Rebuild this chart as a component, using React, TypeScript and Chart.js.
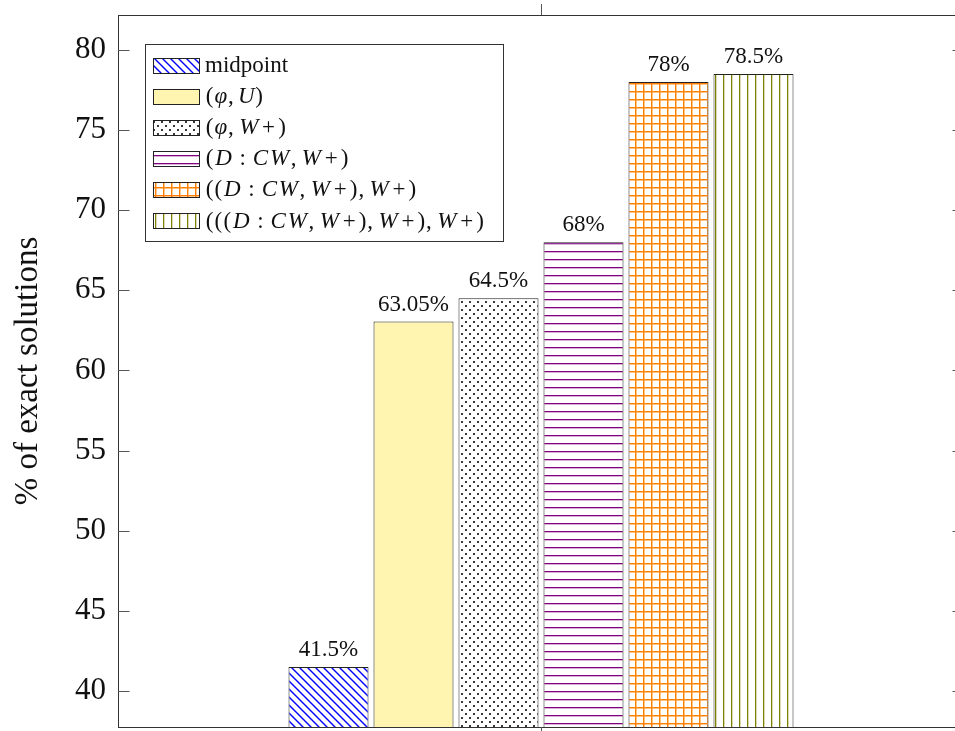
import React, { useEffect, useRef } from "react";
import { Chart, registerables } from "chart.js";

Chart.register(...registerables);

const FONT = "'Liberation Serif', 'DejaVu Serif', serif";

// ---- data ----
const categories = [""];
const seriesNames = [
  "midpoint",
  "(φ, U)",
  "(φ, W+)",
  "(D : CW, W+)",
  "((D : CW, W+), W+)",
  "(((D : CW, W+), W+), W+)",
];
const seriesIsMath = [false, true, true, true, true, true];
const seriesValues = [41.5, 63.05, 64.5, 68, 78, 78.5];
const valueLabels = ["41.5%", "63.05%", "64.5%", "68%", "78%", "78.5%"];
const yTicks = [40, 45, 50, 55, 60, 65, 70, 75, 80];
const yMin = 37.75;
const yMax = 82.18;
const yTitle = "% of exact solutions";

// ---- styles ----
type PatKind = "nwlines" | "solid" | "dots" | "hlines" | "grid" | "vlines";
const seriesPattern: PatKind[] = ["nwlines", "solid", "dots", "hlines", "grid", "vlines"];
const seriesColor = ["#0000ff", "#fff5b0", "#3a3a3a", "#800080", "#ff8000", "#808000"];

const CANVAS_W = 990;
const CANVAS_H = 745;

// approximate math-font advances (em) to mimic TeX spacing
const mathAdvance: Record<string, number> = {
  "(": 0.389,
  ")": 0.389,
  "+": 0.778,
  ",": 0.278,
  ":": 0.278,
  W: 0.944,
  C: 0.715,
  D: 0.828,
  U: 0.683,
  "φ": 0.596,
};

function makeFill(kind: PatKind, color: string): string | CanvasPattern {
  if (kind === "solid") return color;
  const t = document.createElement("canvas");
  t.width = 8;
  t.height = 8;
  const g = t.getContext("2d")!;
  g.fillStyle = "#ffffff";
  g.fillRect(0, 0, 8, 8);
  g.strokeStyle = color;
  g.fillStyle = color;
  g.lineWidth = 1.4;
  if (kind === "nwlines") {
    g.beginPath();
    g.moveTo(-4, -4);
    g.lineTo(12, 12);
    g.moveTo(-4, 4);
    g.lineTo(4, 12);
    g.moveTo(4, -4);
    g.lineTo(12, 4);
    g.stroke();
  } else if (kind === "dots") {
    g.fillRect(1, 1, 2, 2);
    g.fillRect(5, 5, 2, 2);
  } else if (kind === "hlines") {
    g.fillRect(0, 3, 8, 1);
    g.globalAlpha = 0.3;
    g.fillRect(0, 4, 8, 1);
  } else if (kind === "vlines") {
    g.fillRect(3, 0, 1, 8);
    g.globalAlpha = 0.3;
    g.fillRect(4, 0, 1, 8);
  } else if (kind === "grid") {
    g.fillRect(3, 0, 1, 8);
    g.fillRect(0, 3, 8, 1);
    g.globalAlpha = 0.45;
    g.fillRect(4, 0, 1, 8);
    g.fillRect(0, 4, 8, 1);
  }
  const p = document.createElement("canvas").getContext("2d")!.createPattern(t, "repeat");
  return p || color;
}

function richLayout(ctx: CanvasRenderingContext2D, text: string, size: number, math: boolean) {
  const chars = Array.from(text);
  const out: { ch: string; font: string; adv: number; w: number }[] = [];
  chars.forEach((ch, i) => {
    const italic = math && /[A-Za-zφ]/.test(ch);
    const font = `${italic ? "italic " : ""}${size}px ${FONT}`;
    ctx.font = font;
    const w = ctx.measureText(ch).width;
    let adv = w;
    if (math) {
      if (ch === " ") {
        const prev = chars[i - 1];
        adv = prev === "," ? 0.167 * size : 0.278 * size;
      } else if (mathAdvance[ch] !== undefined) {
        adv = Math.max(w, mathAdvance[ch] * size);
      }
    }
    out.push({ ch, font, adv, w });
  });
  return out;
}

function drawRich(ctx: CanvasRenderingContext2D, text: string, x: number, y: number, size: number, math: boolean) {
  const items = richLayout(ctx, text, size, math);
  let cx = x;
  for (const it of items) {
    ctx.font = it.font;
    if (it.ch !== " ") ctx.fillText(it.ch, cx + (it.adv - it.w) / 2, y);
    cx += it.adv;
  }
  return cx - x;
}

function measureRich(ctx: CanvasRenderingContext2D, text: string, size: number, math: boolean) {
  return richLayout(ctx, text, size, math).reduce((s, it) => s + it.adv, 0);
}

export default function App() {
  const ref = useRef<HTMLCanvasElement | null>(null);

  useEffect(() => {
    if (!ref.current) return;
    const fills = seriesPattern.map((k, i) => makeFill(k, seriesColor[i]));

    const decor = {
      id: "decor",
      afterDatasetsDraw(chart: any) {
        const ctx: CanvasRenderingContext2D = chart.ctx;
        const a = chart.chartArea;
        const ys = chart.scales.y;
        const xs = chart.scales.x;
        ctx.save();
        // frame
        ctx.strokeStyle = "#333";
        ctx.lineWidth = 1;
        ctx.strokeRect(Math.round(a.left) + 0.5, Math.round(a.top) + 0.5, Math.round(a.right - a.left), Math.round(a.bottom - a.top));
        // y ticks inward both sides
        ctx.strokeStyle = "#555";
        ctx.beginPath();
        for (const v of yTicks) {
          const y = Math.round(ys.getPixelForValue(v)) + 0.5;
          ctx.moveTo(a.left, y);
          ctx.lineTo(a.left + 11.5, y);
          ctx.moveTo(a.right, y);
          ctx.lineTo(a.right - 11.5, y);
        }
        // x ticks outward top & bottom
        categories.forEach((_, i) => {
          const x = Math.round(xs.getPixelForValue(i)) + 0.5;
          ctx.moveTo(x, a.top - 11);
          ctx.lineTo(x, a.top);
          ctx.moveTo(x, a.bottom);
          ctx.lineTo(x, a.bottom + 11);
        });
        ctx.stroke();

        // value labels
        ctx.fillStyle = "#111";
        ctx.textAlign = "center";
        ctx.textBaseline = "alphabetic";
        ctx.font = `23px ${FONT}`;
        seriesValues.forEach((_, i) => {
          const el = chart.getDatasetMeta(i).data[0];
          if (!el) return;
          ctx.fillText(valueLabels[i], el.x, el.y - 11);
        });

        // legend
        const size = 23;
        const bx = a.left + 27;
        const by = a.top + 29;
        const pitch = 31.1;
        const textX = bx + 60;
        let maxW = 0;
        seriesNames.forEach((n, i) => {
          maxW = Math.max(maxW, measureRich(ctx, n, size, seriesIsMath[i]));
        });
        const bw = textX + maxW + 18 - bx;
        const bh = 197;
        ctx.fillStyle = "#fff";
        ctx.fillRect(bx, by, bw, bh);
        ctx.strokeStyle = "#333";
        ctx.lineWidth = 1;
        ctx.strokeRect(Math.round(bx) + 0.5, Math.round(by) + 0.5, Math.round(bw), bh);
        ctx.textAlign = "left";
        ctx.textBaseline = "middle";
        seriesNames.forEach((n, i) => {
          const cy = by + 21 + i * pitch;
          const sx = Math.round(bx + 8) + 0.5;
          const sy = Math.round(cy - 7.5) + 0.5;
          ctx.fillStyle = fills[i] as any;
          ctx.fillRect(sx, sy, 46, 15);
          ctx.strokeStyle = "#222";
          ctx.strokeRect(sx, sy, 46, 15);
          ctx.fillStyle = "#111";
          drawRich(ctx, n, textX, cy + 1, size, seriesIsMath[i]);
        });
        ctx.restore();
      },
    };

    const chart = new Chart(ref.current, {
      type: "bar",
      data: {
        labels: categories,
        datasets: seriesNames.map((n, i) => ({
          label: n,
          data: [seriesValues[i]],
          backgroundColor: fills[i] as any,
          borderColor: "#222",
          borderWidth: 1,
          borderSkipped: false,
          categoryPercentage: 510 / 846,
          barPercentage: 80 / 85,
        })),
      },
      options: {
        animation: false,
        responsive: false,
        devicePixelRatio: 1,
        layout: { padding: { top: 15, right: CANVAS_W - 964, bottom: CANVAS_H - 727, left: 0 } },
        plugins: { legend: { display: false }, tooltip: { enabled: false } },
        scales: {
          x: { type: "category", display: false, offset: true },
          y: {
            type: "linear",
            min: yMin,
            max: yMax,
            afterBuildTicks: (s: any) => {
              s.ticks = yTicks.map((v) => ({ value: v }));
            },
            afterFit: (s: any) => {
              s.width = 118;
              s.paddingTop = 0;
              s.paddingBottom = 0;
            },
            ticks: { font: { family: FONT, size: 31 }, color: "#111", padding: 12 },
            grid: { drawOnChartArea: false, drawTicks: false },
            border: { display: true, color: "#333", width: 1 },
            title: {
              display: true,
              text: yTitle,
              font: { family: FONT, size: 33 },
              color: "#111",
              padding: { top: 9, bottom: 0 },
            },
          },
        },
      },
      plugins: [decor],
    });
    return () => chart.destroy();
  }, []);

  return (
    <div
      style={{
        position: "fixed",
        left: 0,
        top: 0,
        width: 955,
        height: 731,
        overflow: "hidden",
        background: "#fff",
      }}
    >
      <canvas ref={ref} width={CANVAS_W} height={CANVAS_H} style={{ display: "block" }} />
    </div>
  );
}
